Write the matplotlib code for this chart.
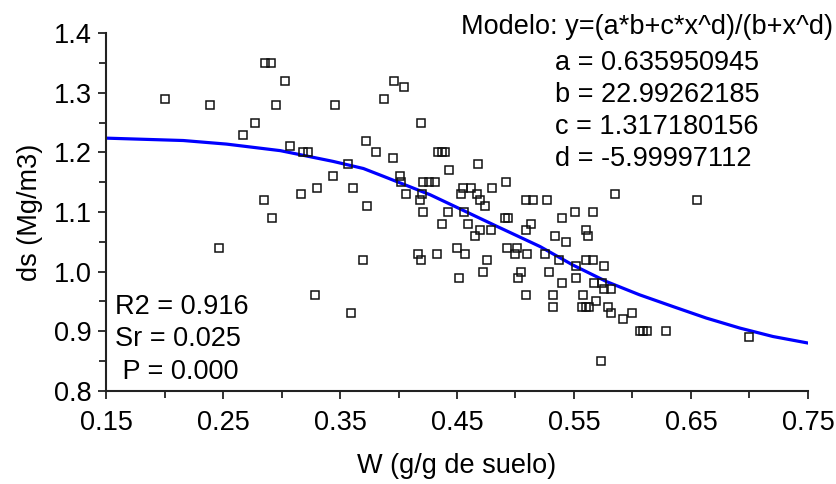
import matplotlib
matplotlib.use("Agg")
import matplotlib.pyplot as plt
from matplotlib.ticker import FixedLocator, MultipleLocator, FormatStrFormatter

plt.rcParams['font.family'] = ['Liberation Sans', 'DejaVu Sans']

# Observed points: W (g/g) and ds (Mg/m3)
w_obs = [0.200, 0.239, 0.247, 0.267, 0.277, 0.285, 0.286, 0.291, 0.292, 0.295,
         0.303, 0.307, 0.317, 0.318, 0.323, 0.329, 0.330, 0.344, 0.346, 0.357,
         0.359, 0.361, 0.370, 0.372, 0.373, 0.381, 0.388, 0.395, 0.396, 0.401,
         0.402, 0.405, 0.406, 0.417, 0.419, 0.418, 0.420, 0.419, 0.421, 0.421,
         0.426, 0.431, 0.433, 0.434, 0.437, 0.440, 0.437, 0.442, 0.443, 0.450,
         0.452, 0.453, 0.455, 0.456, 0.457, 0.459, 0.462, 0.465, 0.467, 0.468,
         0.470, 0.470, 0.472, 0.474, 0.476, 0.479, 0.480, 0.491, 0.494, 0.492,
         0.493, 0.501, 0.500, 0.502, 0.505, 0.509, 0.509, 0.515, 0.509, 0.510,
         0.513, 0.525, 0.527, 0.529, 0.532, 0.532, 0.534, 0.537, 0.540, 0.540,
         0.543, 0.551, 0.552, 0.552, 0.557, 0.558, 0.560, 0.563, 0.560, 0.562,
         0.560, 0.566, 0.566, 0.567, 0.569, 0.573, 0.574, 0.576, 0.576, 0.579,
         0.582, 0.582, 0.585, 0.592, 0.600, 0.606, 0.609, 0.612, 0.629, 0.655,
         0.700]
ds_obs = [1.29, 1.28, 1.04, 1.23, 1.25, 1.12, 1.35, 1.35, 1.09, 1.28,
          1.32, 1.21, 1.13, 1.20, 1.20, 0.96, 1.14, 1.16, 1.28, 1.18,
          0.93, 1.14, 1.02, 1.22, 1.11, 1.20, 1.29, 1.19, 1.32, 1.16,
          1.15, 1.31, 1.13, 1.03, 1.02, 1.12, 1.13, 1.25, 1.10, 1.15,
          1.15, 1.15, 1.03, 1.20, 1.20, 1.20, 1.08, 1.10, 1.17, 1.04,
          0.99, 1.13, 1.14, 1.10, 1.03, 1.08, 1.14, 1.06, 1.13, 1.18,
          1.07, 1.12, 1.00, 1.11, 1.02, 1.07, 1.14, 1.09, 1.09, 1.15,
          1.04, 1.04, 1.03, 0.99, 1.00, 1.07, 1.12, 1.12, 0.96, 1.03,
          1.08, 1.03, 1.12, 1.00, 0.96, 0.94, 1.06, 1.02, 1.09, 0.98,
          1.05, 1.10, 1.01, 0.99, 0.94, 0.96, 0.94, 0.94, 1.07, 1.06,
          1.02, 1.02, 1.10, 0.98, 0.95, 0.85, 0.98, 1.01, 0.97, 0.94,
          0.97, 0.93, 1.13, 0.92, 0.93, 0.90, 0.90, 0.90, 0.90, 1.12,
          0.89]

# Fitted curve
w_fit = [0.150, 0.216, 0.253, 0.299, 0.344, 0.370, 0.387, 0.427, 0.455, 0.484,
         0.521, 0.549, 0.578, 0.606, 0.635, 0.663, 0.692, 0.720, 0.750]
ds_fit = [1.224, 1.220, 1.214, 1.203, 1.185, 1.173, 1.160, 1.129, 1.103, 1.076,
          1.042, 1.011, 0.983, 0.961, 0.941, 0.922, 0.905, 0.891, 0.880]

x_ticks = [0.15, 0.25, 0.35, 0.45, 0.55, 0.65, 0.75]
x_minor = [0.20, 0.30, 0.40, 0.50, 0.60, 0.70]
y_ticks = [0.8, 0.9, 1.0, 1.1, 1.2, 1.3, 1.4]

model_lines = ["a = 0.635950945", "b = 22.99262185", "c = 1.317180156", "d = -5.99997112"]
stats_lines = ["R2 = 0.916", "Sr = 0.025", " P = 0.000"]

FS = 19.5

fig = plt.figure(figsize=(8.37, 4.84), dpi=100)
ax = fig.add_axes([106/837, 1 - 390.7/484, 702/837, 357.4/484])

ax.plot(w_obs, ds_obs, linestyle='none', marker='s', markersize=6.2,
        markerfacecolor='none', markeredgecolor='#111111', markeredgewidth=1.1, zorder=3)
ax.plot(w_fit, ds_fit, color='#0000ff', linewidth=2.3, zorder=2)

ax.set_xlim(0.15, 0.75)
ax.set_ylim(0.8, 1.4)
ax.xaxis.set_major_locator(FixedLocator(x_ticks))
ax.xaxis.set_minor_locator(FixedLocator(x_minor))
ax.yaxis.set_major_locator(FixedLocator(y_ticks))
ax.yaxis.set_minor_locator(MultipleLocator(0.05))
ax.xaxis.set_major_formatter(FormatStrFormatter('%.2f'))
ax.yaxis.set_major_formatter(FormatStrFormatter('%.1f'))

for s in ['top', 'right']:
    ax.spines[s].set_visible(False)
for s in ['left', 'bottom']:
    ax.spines[s].set_linewidth(1.5)
    ax.spines[s].set_color('#222222')

ax.tick_params(which='major', direction='out', length=6, width=1.3, labelsize=FS,
               colors='#222222', labelcolor='black')
ax.tick_params(which='minor', direction='out', length=5, width=1.3, colors='#222222')
ax.tick_params(axis='x', pad=8)
ax.tick_params(axis='y', pad=4)

ax.set_xlabel('W (g/g de suelo)', fontsize=FS, labelpad=12)
ax.set_ylabel('ds (Mg/m3)', fontsize=FS, labelpad=8)

# Model text (figure pixel coordinates)
fig.text(833/837, 1 - 27/484, 'Modelo: y=(a*b+c*x^d)/(b+x^d)', fontsize=FS,
         ha='right', va='center')
for i, t in enumerate(model_lines):
    fig.text(555/837, 1 - (63 + 32*i)/484, t, fontsize=FS, ha='left', va='center')

for i, t in enumerate(stats_lines):
    fig.text(115/837, 1 - (307 + 32.5*i)/484, t, fontsize=FS, ha='left', va='center')

fig.savefig('out.png', dpi=100, facecolor='white')
